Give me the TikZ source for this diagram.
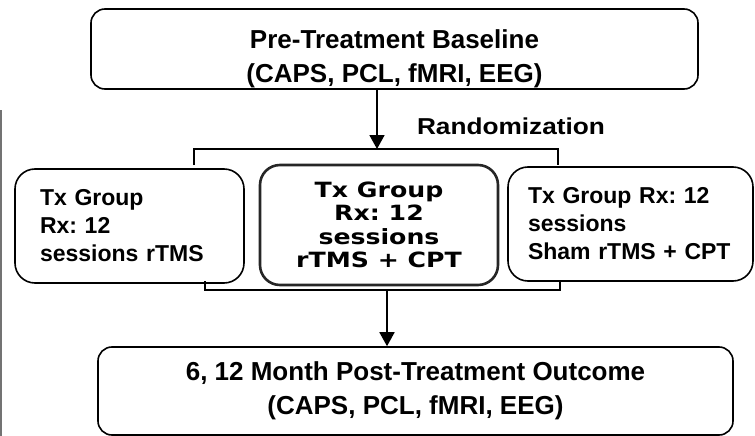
\documentclass[tikz,border=0pt]{standalone}
\usepackage{fontspec}
\setmainfont{Liberation Sans}
\newfontfamily\widesans[FakeStretch=1.2]{DejaVu Sans}
\newfontfamily\randsans[FakeStretch=1.14]{Liberation Sans}
\usetikzlibrary{arrows.meta}
\frenchspacing

\begin{document}
\begin{tikzpicture}[x=1pt,y=-1pt,
  box/.style={draw,line width=1.6pt,rounded corners=14pt,inner sep=0pt,align=center,font=\fontsize{26}{34}\selectfont\bfseries},
  sidebox/.style={draw,line width=1.6pt,rounded corners=20pt,inner ysep=0pt,align=left,minimum height=114,font=\fontsize{23}{28}\selectfont\bfseries},
  midbox/.style={draw=black!85,line width=2.6pt,rounded corners=20pt,inner sep=0pt,align=center,font=\widesans\fontsize{21}{23.3}\selectfont\bfseries},
  link/.style={line width=1.4pt},
  arr/.style={line width=1.8pt,-{Triangle[length=14pt,width=15pt]}}]
\useasboundingbox (0,0) rectangle (755,436);
\draw[black!55,line width=1.2pt] (1,110)--(1,436);
\node[box,minimum width=607,minimum height=80] (base) at (394.5,49){\rule{0pt}{38pt}Pre-Treatment Baseline\\(CAPS, PCL, fMRI, EEG)};
\node[font=\randsans\fontsize{23}{28}\selectfont\bfseries] (rand) at (511,126){Randomization};
\coordinate (split) at (377,149);\coordinate (tl) at (194,165);\coordinate (tr) at (558,165);
\draw[arr] (base.south -| split)--(split);
\draw[link] (tl) |- (split) -| (tr);
\node[sidebox,text width=179,inner xsep=25] (rtms) at (129.5,226){Tx Group\\Rx: 12\\sessions rTMS};
\node[midbox,minimum width=238,minimum height=120] (combo) at (379,225){Tx Group\\Rx: 12\\sessions\\rTMS + CPT};
\node[sidebox,text width=205,inner xsep=20] (sham) at (630.5,224){Tx Group Rx: 12\\sessions\\Sham rTMS + CPT};
\coordinate (join) at (387,290);\coordinate (bl) at (205,281);\coordinate (br) at (560,281);
\draw[link] (bl) |- (join) -| (br);
\node[box,minimum width=635,minimum height=88] (post) at (415.5,391){6, 12 Month Post-Treatment Outcome\\(CAPS, PCL, fMRI, EEG)};
\draw[arr] (join)--(post.north -| join);
\end{tikzpicture}
\end{document}
